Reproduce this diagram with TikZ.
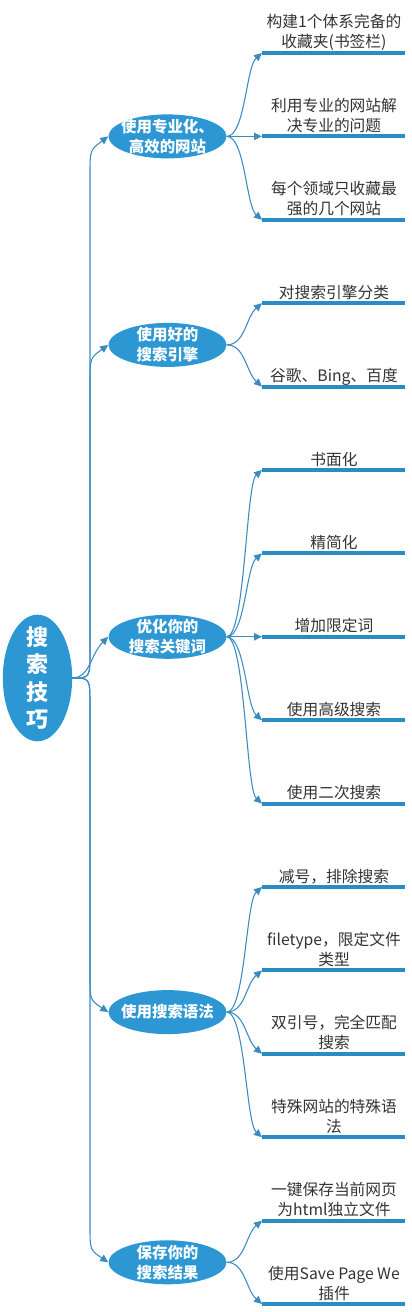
\documentclass[tikz,border=0pt]{standalone}
\usepackage{fontspec}
\setmainfont{Noto Sans CJK SC}
\usetikzlibrary{shapes.geometric,arrows.meta}
\definecolor{nodeblue}{HTML}{2D97D3}
\definecolor{linkblue}{HTML}{3A8BBF}
\definecolor{barblue}{HTML}{2A8CC4}
\definecolor{txtgray}{HTML}{333333}
\begin{document}
\begin{tikzpicture}[x=0.75pt,y=-0.75pt,
  rootnode/.style={ellipse, fill=nodeblue, minimum width=52pt, minimum height=95pt, inner sep=0pt},
  topic/.style={ellipse, fill=nodeblue, minimum width=88.5pt, minimum height=33pt, inner sep=0pt},
  etext/.style={text=white, font=\bfseries\fontsize{11.6}{15}\selectfont, align=center, inner sep=0pt},
  roottext/.style={text=white, font=\bfseries\fontsize{16.5}{20.6}\selectfont, align=center, inner sep=0pt},
  link/.style={draw=linkblue, line width=0.8pt, -{Triangle[length=6pt,width=5.5pt]}},
  bar/.style={draw=barblue, line width=3pt},
  leaftext/.style={text=txtgray, font=\fontsize{11.8}{15}\selectfont, align=center, anchor=base, inner sep=0pt},
]
\useasboundingbox (0,0) rectangle (411,1312);

% root
\node[rootnode, label={[roottext]center:{搜\\索\\技\\巧}}] (root) at (37.5,678) {};

% topics
\node[topic, label={[etext]center:{使用专业化、\\高效的网站}}] (e1) at (167.5,136.4) {};
\node[topic, label={[etext]center:{使用好的\\搜索引擎}}] (e2) at (167.5,344.9) {};
\node[topic, label={[etext]center:{优化你的\\搜索关键词}}] (e3) at (167.5,636.8) {};
\node[topic, label={[etext]center:{使用搜索语法}}] (e4) at (167.5,1012.1) {};
\node[topic, label={[etext]center:{保存你的\\搜索结果}}] (e5) at (167.5,1262.3) {};

% root links
\draw[link] (root.east) .. controls (90,678) .. (90,650) -- (90,175) .. controls (90,150) .. (e1.west);
\draw[link] (root.east) .. controls (90,678) .. (90,650) -- (90,383) .. controls (90,358) .. (e2.west);
\draw[link] (root.east) .. controls (90,678) and (90,655) .. (e3.west);
\draw[link] (root.east) .. controls (90,678) .. (90,706) -- (90,975) .. controls (90,1000) .. (e4.west);
\draw[link] (root.east) .. controls (90,678) .. (90,706) -- (90,1225) .. controls (90,1250) .. (e5.west);

% leaf anchors
\coordinate (l0) at (262,53);
\coordinate (l1) at (262,136.4);
\coordinate (l2) at (262,219.8);
\coordinate (l3) at (262,303.2);
\coordinate (l4) at (262,386.6);
\coordinate (l5) at (262,470);
\coordinate (l6) at (262,553.4);
\coordinate (l7) at (262,636.8);
\coordinate (l8) at (262,720.2);
\coordinate (l9) at (262,803.6);
\coordinate (l10) at (262,887);
\coordinate (l11) at (262,970.4);
\coordinate (l12) at (262,1053.8);
\coordinate (l13) at (262,1137.2);
\coordinate (l14) at (262,1220.6);
\coordinate (l15) at (262,1304);

% leaf bars
\foreach \i in {0,...,15} { \draw[bar] (l\i) -- ++(143,0); }

% topic -> leaf links
\draw[link] (e1.east) .. controls (245,136.4) and (246,67) .. (l0);
\draw[link] (e1.east) -- (l1);
\draw[link] (e1.east) .. controls (245,136.4) and (246,206) .. (l2);

\draw[link] (e2.east) .. controls (245,344.9) and (246,317) .. (l3);
\draw[link] (e2.east) .. controls (245,344.9) and (246,372) .. (l4);

\draw[link] (e3.east) .. controls (245,636.8) and (246,484) .. (l5);
\draw[link] (e3.east) .. controls (245,636.8) and (246,567) .. (l6);
\draw[link] (e3.east) -- (l7);
\draw[link] (e3.east) .. controls (245,636.8) and (246,706) .. (l8);
\draw[link] (e3.east) .. controls (245,636.8) and (246,789) .. (l9);

\draw[link] (e4.east) .. controls (245,1012.1) and (246,901) .. (l10);
\draw[link] (e4.east) .. controls (245,1012.1) and (246,984) .. (l11);
\draw[link] (e4.east) .. controls (245,1012.1) and (246,1040) .. (l12);
\draw[link] (e4.east) .. controls (245,1012.1) and (246,1123) .. (l13);

\draw[link] (e5.east) .. controls (245,1262.3) and (246,1234) .. (l14);
\draw[link] (e5.east) .. controls (245,1262.3) and (246,1290) .. (l15);

% leaf texts (base = baseline of the last line)
\node[leaftext] (t0) at (334,48) {构建1个体系完备的\\收藏夹(书签栏)};
\node[leaftext] (t1) at (334,131.4) {利用专业的网站解\\决专业的问题};
\node[leaftext] (t2) at (334,214.8) {每个领域只收藏最\\强的几个网站};
\node[leaftext] (t3) at (334,298.2) {对搜索引擎分类};
\node[leaftext] (t4) at (334,381.6) {谷歌、Bing、百度};
\node[leaftext] (t5) at (334,465) {书面化};
\node[leaftext] (t6) at (334,548.4) {精简化};
\node[leaftext] (t7) at (334,631.8) {增加限定词};
\node[leaftext] (t8) at (334,715.2) {使用高级搜索};
\node[leaftext] (t9) at (334,798.6) {使用二次搜索};
\node[leaftext] (t10) at (334,882) {减号，排除搜索};
\node[leaftext] (t11) at (334,965.4) {filetype，限定文件\\类型};
\node[leaftext] (t12) at (334,1048.8) {双引号，完全匹配\\搜索};
\node[leaftext] (t13) at (334,1132.2) {特殊网站的特殊语\\法};
\node[leaftext] (t14) at (334,1215.6) {一键保存当前网页\\为html独立文件};
\node[leaftext] (t15) at (334,1299) {使用Save Page We\\插件};
\end{tikzpicture}
\end{document}
